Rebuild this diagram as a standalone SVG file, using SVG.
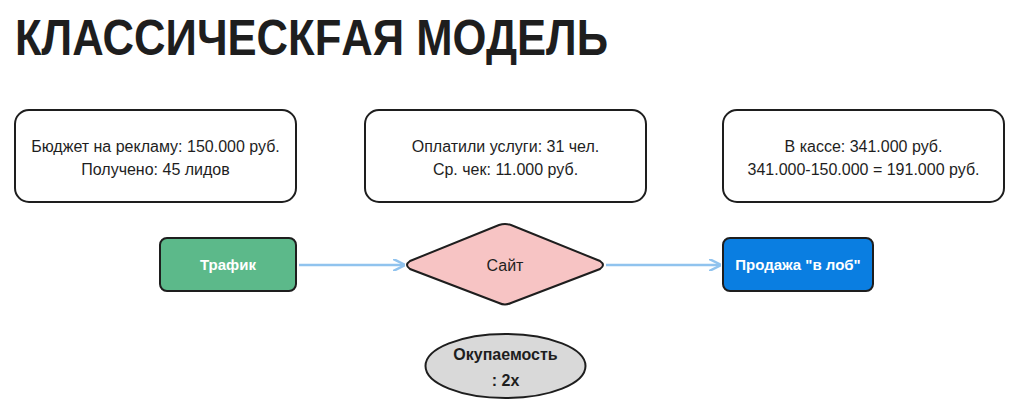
<svg xmlns="http://www.w3.org/2000/svg" width="1019" height="409" viewBox="0 0 1019 409">
<defs>
<style>
.box{fill:#ffffff;stroke:#1e1e1e;stroke-width:2}
.t{font-family:"Liberation Sans",Arial,sans-serif;font-size:16px;fill:#1e1e1e;text-anchor:middle}
.w{font-family:"Liberation Sans",Arial,sans-serif;font-size:15px;font-weight:bold;fill:#ffffff;text-anchor:middle}
.edge{stroke:#90c3ee;stroke-width:2.5;fill:none}
</style>
<marker id="ah" viewBox="0 0 10 10" refX="9" refY="5" markerWidth="5" markerHeight="5" orient="auto" markerUnits="strokeWidth">
<path d="M0,0 L10,5 L0,10" fill="none" stroke="#90c3ee" stroke-width="2"/>
</marker>
</defs>
<rect width="1019" height="409" fill="#ffffff"/>
<text x="15" y="55" font-family="Liberation Sans, Arial, sans-serif" font-weight="bold" font-size="50" fill="#1e1e1e" textLength="593" lengthAdjust="spacingAndGlyphs">КЛАССИЧЕСКFАЯ МОДЕЛЬ</text>
<g id="budget">
<rect class="box" x="15" y="110" width="281" height="92" rx="14"/>
<text class="t" x="155.5" y="152">Бюджет на рекламу: 150.000 руб.</text>
<text class="t" x="155.5" y="175">Получено: 45 лидов</text>
</g>
<g id="paid">
<rect class="box" x="365" y="110" width="281" height="92" rx="14"/>
<text class="t" x="505.5" y="152">Оплатили услуги: 31 чел.</text>
<text class="t" x="505.5" y="175">Ср. чек: 11.000 руб.</text>
</g>
<g id="cash">
<rect class="box" x="723" y="110" width="281" height="92" rx="14"/>
<text class="t" x="863.5" y="152">В кассе: 341.000 руб.</text>
<text class="t" x="863.5" y="175">341.000-150.000 = 191.000 руб.</text>
</g>
<g id="connectors">
<line class="edge" x1="299" y1="265" x2="404" y2="265" marker-end="url(#ah)"/>
<line class="edge" x1="606" y1="265" x2="720" y2="265" marker-end="url(#ah)"/>
</g>
<g id="traffic">
<rect x="160" y="238" width="136" height="53" rx="7" fill="#5cb98a" stroke="#1e1e1e" stroke-width="2"/>
<text class="w" x="228" y="270">Трафик</text>
</g>
<g id="site">
<path d="M410,261 L499,225 Q505,223 511,225 L600,261 Q606,265 600,269 L511,303 Q505,306 499,303 L410,269 Q404,265 410,261 Z" fill="#f7c4c4" stroke="#1e1e1e" stroke-width="2"/>
<text class="t" x="505" y="271">Сайт</text>
</g>
<g id="sales">
<rect x="723" y="238" width="150" height="53" rx="7" fill="#0a7ee1" stroke="#1e1e1e" stroke-width="2"/>
<text class="w" x="798" y="270">Продажа "в лоб"</text>
</g>
<g id="payback">
<ellipse cx="505.5" cy="366" rx="80" ry="32" fill="#d9d9d9" stroke="#1e1e1e" stroke-width="2"/>
<text class="t" x="505.5" y="360" font-weight="bold">Окупаемость</text>
<text class="t" x="505.5" y="386" font-weight="bold">: 2x</text>
</g>
</svg>
